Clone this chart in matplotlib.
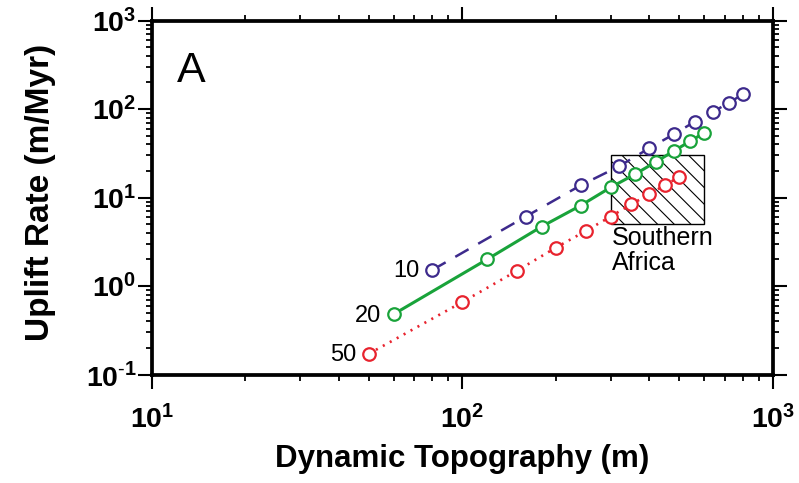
import math
import matplotlib
matplotlib.use("Agg")
import matplotlib.pyplot as plt
from matplotlib.patches import Rectangle
from matplotlib.ticker import LogLocator, FuncFormatter, NullFormatter

# values (log-log)
topo_10 = [80, 160, 240, 320, 400, 480, 560, 640, 720, 800]
rate_10 = [1.52, 6.1, 13.7, 22.6, 36.2, 52, 72, 93, 117, 147]

topo_20 = [60, 120, 180, 240, 300, 360, 420, 480, 540, 600]
rate_20 = [0.48, 2.0, 4.7, 8.1, 13.0, 18.4, 25.3, 33.7, 43.0, 53.7]

topo_50 = [50, 100, 150, 200, 250, 300, 350, 400, 450, 500]
rate_50 = [0.172, 0.66, 1.49, 2.72, 4.2, 6.1, 8.4, 10.9, 13.9, 17.1]

series_names = ["10", "20", "50"]

# Southern Africa box (topography range, uplift rate range)
sa_topo = [300, 600]
sa_rate = [5, 30]

plt.rcParams['font.family'] = ['Liberation Sans', 'DejaVu Sans']
plt.rcParams['mathtext.fontset'] = 'custom'
plt.rcParams['mathtext.rm'] = 'Liberation Sans'
plt.rcParams['mathtext.bf'] = 'Liberation Sans:bold'
plt.rcParams['lines.scale_dashes'] = False
plt.rcParams['hatch.linewidth'] = 0.8

fig = plt.figure(figsize=(7.99, 4.83), dpi=100)
ax = fig.add_axes([0.1902, 0.2246, 0.7772, 0.7329])

# --- hatched box ---
box = Rectangle((sa_topo[0], sa_rate[0]), sa_topo[1] - sa_topo[0], sa_rate[1] - sa_rate[0],
                facecolor='white', edgecolor='black', linewidth=1.0, hatch='\\\\', zorder=1)
ax.add_patch(box)
ax.annotate('Southern\nAfrica', (sa_topo[0], sa_rate[0]), xytext=(1, -1), textcoords='offset points',
            fontsize=18, ha='left', va='top', linespacing=1.1, zorder=3)

# --- curves ---
purple = '#3d2a8c'
green = '#19a33a'
red = '#e8232e'

ax.plot(topo_10, rate_10, color=purple, lw=1.8, dashes=(11, 8),
        marker='o', ms=9, mew=1.6, mfc='white', mec=purple, zorder=4)
ax.plot(topo_20, rate_20, color=green, lw=2.2, linestyle='-',
        marker='o', ms=9, mew=1.6, mfc='white', mec=green, zorder=4)
ax.plot(topo_50, rate_50, color=red, lw=1.9, linestyle=(0, (1.5, 4.2)),
        marker='o', ms=9, mew=1.6, mfc='white', mec=red, zorder=4)

for name, xs, ys in zip(series_names, [topo_10, topo_20, topo_50], [rate_10, rate_20, rate_50]):
    ax.annotate(name, (xs[0], ys[0]), xytext=(-9, -1), textcoords='offset points',
                ha='right', va='center', fontsize=17)

ax.text(0.04, 0.915, 'A', transform=ax.transAxes, fontsize=31, ha='left', va='top')

# --- axes ---
ax.set_xscale('log')
ax.set_yscale('log')
ax.set_xlim(10, 1000)
ax.set_ylim(0.1, 1000)


def pow_label(v, pos):
    e = round(math.log10(v))
    if e < 0:
        return r'$\mathbf{10}^{\mathbf{\text{-}%d}}$' % (-e)
    return r'$\mathbf{10^{%d}}$' % e


for axis in (ax.xaxis, ax.yaxis):
    axis.set_major_locator(LogLocator(base=10, numticks=10))
    axis.set_minor_locator(LogLocator(base=10, subs=range(2, 10), numticks=10))
    axis.set_major_formatter(FuncFormatter(pow_label))
    axis.set_minor_formatter(NullFormatter())

ax.tick_params(which='both', direction='out', top=True, right=True)
ax.tick_params(which='major', length=10, width=1.5, labelsize=20.5)
ax.tick_params(which='minor', length=4.5, width=1.3)
ax.tick_params(axis='x', which='major', pad=12)
ax.tick_params(axis='y', which='major', pad=1)

for s in ax.spines.values():
    s.set_linewidth(2.7)

ax.set_xlabel('Dynamic Topography (m)', fontsize=22.5, fontweight='bold')
ax.set_ylabel('Uplift Rate (m/Myr)', fontsize=24, fontweight='bold')
ax.xaxis.set_label_coords(0.5, -0.197)
ax.yaxis.set_label_coords(-0.155, 0.515)

fig.savefig('out.png', dpi=100)
